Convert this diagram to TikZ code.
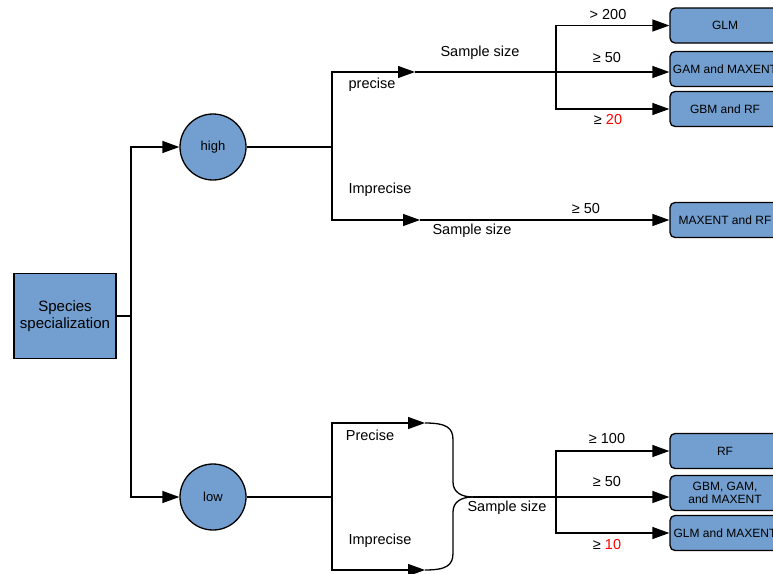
\documentclass[tikz,border=0pt]{standalone}
\usepackage{fontspec}
\setmainfont{Liberation Sans}
\usetikzlibrary{arrows.meta, positioning, shapes, calc}
\definecolor{boxblue}{HTML}{729FCF}

\begin{document}
\begin{tikzpicture}[
    x=1pt, y=-1pt,
    line width=1.3pt,
    specbox/.style={draw, fill=boxblue, minimum width=102pt, minimum height=85pt, align=center, font=\fontsize{15}{17}\selectfont},
    levelnode/.style={draw, circle, fill=boxblue, minimum size=66pt, inner sep=0pt, font=\fontsize{13}{15}\selectfont},
    modelbox/.style={draw, rounded corners=5pt, fill=boxblue, minimum width=110pt, minimum height=35pt, inner sep=0pt, align=center, font=\fontsize{12}{13}\selectfont},
    lbl/.style={inner sep=1pt, font=\fontsize{14.5}{16}\selectfont},
    arrow/.style={-{Triangle[length=17pt,width=12pt]}},
]
\useasboundingbox (0,0) rectangle (773,573);
\clip (0,0) rectangle (773,573);

% Nodes
\node[specbox] (spec) at (65,316) {Species\\specialization};
\node[levelnode] (high) at (213,147) {high};
\node[levelnode] (low) at (213,497) {low};

\node[modelbox] (glm) at (725,25.5) {GLM};
\node[modelbox] (gammax) at (725,69) {GAM and MAXENT};
\node[modelbox] (gbmrf) at (725,109) {GBM and RF};
\node[modelbox] (maxrf) at (725,220) {MAXENT and RF};
\node[modelbox] (rf) at (725,451) {RF};
\node[modelbox] (gbmgam) at (725,493) {GBM, GAM,\\and MAXENT};
\node[modelbox] (glmmax) at (725,533) {GLM and MAXENT};

% Junctions
\coordinate (trunk) at (131,316);
\coordinate (hj) at (332,147);
\coordinate (lj) at (332,497);
\coordinate (pmid) at (415,72);
\coordinate (imid) at (420,220);
\coordinate (pj) at (556,72);
\coordinate (lpa) at (425,423);
\coordinate (lia) at (425,570);
\coordinate (brace) at (473,497);
\coordinate (sj) at (556,497);

% Arrows, first level
\draw[arrow] (spec.east) -- (trunk) |- (high.west);
\draw[arrow] (trunk) |- (low.west);

% High specialization
\draw (high.east) -- (hj);
\draw[arrow] (hj) |- (pmid);
\draw (pmid) -- (pj);
\draw[arrow] (pj) |- (glm.west);
\draw[arrow] (pj) -- (gammax.west |- pj);
\draw[arrow] (pj) |- (gbmrf.west);
\draw[arrow] (hj) |- (imid);
\draw[arrow] (imid) -- (maxrf.west);

% Low specialization
\draw (low.east) -- (lj);
\draw[arrow] (lj) |- (lpa);
\draw[arrow] (lj) |- (lia);
\draw (lpa) .. controls (447,423) and (453,428) .. (453,440) -- (453,482)
      .. controls (453,492) and (461,497) .. (brace);
\draw (lia) .. controls (447,570) and (453,565) .. (453,553) -- (453,512)
      .. controls (453,502) and (461,497) .. (brace);
\draw (brace) -- (sj);
\draw[arrow] (sj) |- (rf.west);
\draw[arrow] (sj) -- (gbmgam.west |- sj);
\draw[arrow] (sj) |- (glmmax.west);

% Labels
\node[lbl] (sz1) at (480,53) {Sample size};
\node[lbl] (prec1) at (372,85) {precise};
\node[lbl] (g200) at (608,15) {> 200};
\node[lbl] (g50a) at (607,58) {≥ 50};
\node[lbl] (g20) at (608,120) {≥ \textcolor{red}{20}};
\node[lbl] (impr1) at (380,190) {Imprecise};
\node[lbl] (sz2) at (472,231) {Sample size};
\node[lbl] (g50b) at (586,209) {≥ 50};

\node[lbl] (prec2) at (370,435) {Precise};
\node[lbl] (impr2) at (380,541) {Imprecise};
\node[lbl] (sz3) at (507,508) {Sample size};
\node[lbl] (g100) at (607,439) {≥ 100};
\node[lbl] (g50c) at (607,482) {≥ 50};
\node[lbl] (g10) at (607,544) {≥ \textcolor{red}{10}};

\end{tikzpicture}
\end{document}
